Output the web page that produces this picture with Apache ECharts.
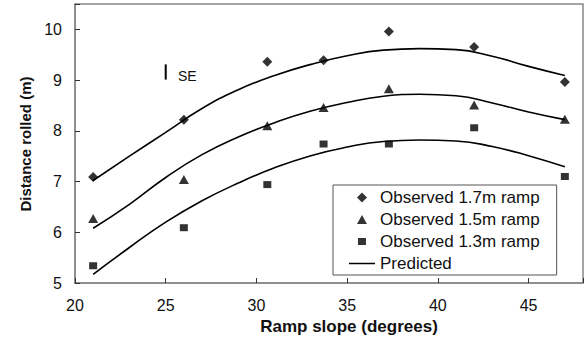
<!DOCTYPE html>
<html>
<head>
<meta charset="utf-8">
<script src="https://cdn.jsdelivr.net/npm/echarts@6/dist/echarts.min.js"></script>
<style>
html,body{margin:0;padding:0;background:#fff;}
#chart{width:586px;height:338px;}
</style>
</head>
<body>
<div id="chart"></div>
<script>
// Observed data
const slopes = [21, 26, 30.6, 33.7, 37.3, 42, 47];
const obs17 = [7.09, 8.22, 9.36, 9.39, 9.96, 9.65, 8.96];
const obs15 = [6.27, 7.04, 8.10, 8.46, 8.83, 8.51, 8.23];
const obs13 = [5.34, 6.09, 6.94, 7.74, 7.74, 8.06, 7.10];
// Predicted curves
const predX = [21, 23, 25, 27, 29, 31, 33, 35, 37, 39, 41, 43, 45, 47];
const pred17 = [7.02, 7.50, 7.97, 8.44, 8.81, 9.09, 9.31, 9.48, 9.59, 9.62, 9.60, 9.47, 9.27, 9.09];
const pred15 = [6.08, 6.55, 7.08, 7.53, 7.88, 8.16, 8.39, 8.56, 8.68, 8.72, 8.69, 8.55, 8.37, 8.22];
const pred13 = [5.17, 5.70, 6.20, 6.62, 6.97, 7.27, 7.51, 7.68, 7.79, 7.82, 7.80, 7.69, 7.51, 7.29];
// SE bar
const seX = 25;
const seRange = [9.01, 9.31];
// Axis ticks
const xTicks = [20, 25, 30, 35, 40, 45];
const yTicks = [5, 6, 7, 8, 9, 10];
const legendNames = ['Observed 1.7m ramp', 'Observed 1.5m ramp', 'Observed 1.3m ramp', 'Predicted'];

const pair = (xs, ys) => xs.map((x, i) => [x, ys[i]]);
const FONT = "'Liberation Sans', Arial, sans-serif";
// legend icons drawn inside a fixed 26x10 frame (frame corners are zero-area sub-paths)
const FRAME = 'M0,0 L0,0.01 Z M26,10 L26,10.01 Z ';
const icons = [
  'path://' + FRAME + 'M13,0 L18,5 L13,10 L8,5 Z',
  'path://' + FRAME + 'M8,9.5 L13,0.5 L18,9.5 Z',
  'path://' + FRAME + 'M9,1.5 L17,1.5 L17,8.5 L9,8.5 Z',
  'path://' + FRAME + 'M0,4.2 L26,4.2 L26,5.8 L0,5.8 Z'
];

const chart = echarts.init(document.getElementById('chart'), null, {renderer: 'svg'});
const predStyle = {
  type: 'line', name: 'Predicted', smooth: true, showSymbol: false, symbol: 'none',
  lineStyle: {color: '#000', width: 1.6}, itemStyle: {color: '#000'}, z: 2, silent: true
};
chart.setOption({
  animation: false,
  backgroundColor: '#fff',
  grid: {left: 75, top: 4, right: -6, bottom: 55, show: true, borderColor: '#888', borderWidth: 1.5},
  xAxis: {
    type: 'value', min: 20, max: 48, interval: 5,
    axisLine: {lineStyle: {color: '#888', width: 1.5}},
    axisTick: {inside: true, length: 5, lineStyle: {color: '#333'}},
    splitLine: {show: false},
    axisLabel: {
      margin: 14, fontSize: 16, fontFamily: FONT, color: '#111',
      formatter: v => xTicks.indexOf(v) >= 0 ? String(v) : ''
    }
  },
  yAxis: {
    type: 'value', min: 5, max: 10.5, interval: 1,
    axisLine: {show: true, lineStyle: {color: '#888', width: 1.5}},
    axisTick: {show: true, inside: true, length: 5, lineStyle: {color: '#333'}},
    splitLine: {show: false},
    axisLabel: {
      margin: 13, fontSize: 16, fontFamily: FONT, color: '#111',
      formatter: v => yTicks.indexOf(v) >= 0 ? String(v) : ''
    }
  },
  legend: {
    left: 333, top: 185, orient: 'vertical',
    data: legendNames.map((n, i) => ({name: n, icon: icons[i]})),
    itemWidth: 26, itemHeight: 10, itemGap: 5,
    padding: [4, 17, 3, 16],
    borderColor: '#555', borderWidth: 1,
    textStyle: {fontSize: 17, fontFamily: FONT, color: '#111', lineHeight: 16},
    selectedMode: false
  },
  graphic: [
    {type: 'text', x: 349, y: 326, style: {text: 'Ramp slope (degrees)', font: "bold 17px 'Liberation Sans', Arial, sans-serif", fill: '#111', textAlign: 'center', textVerticalAlign: 'middle'}},
    {type: 'text', x: 25, y: 144, rotation: Math.PI / 2, style: {text: 'Distance rolled (m)', font: "bold 15px 'Liberation Sans', Arial, sans-serif", fill: '#111', textAlign: 'center', textVerticalAlign: 'middle'}},
    {type: 'text', x: 178, y: 76, style: {text: 'SE', font: "14px 'Liberation Sans', Arial, sans-serif", fill: '#111', textAlign: 'left', textVerticalAlign: 'middle'}}
  ],
  series: [
    {type: 'scatter', name: legendNames[0], data: pair(slopes, obs17), symbol: 'diamond', symbolSize: [10, 10], itemStyle: {color: '#000'}, z: 3},
    {type: 'scatter', name: legendNames[1], data: pair(slopes, obs15), symbol: 'triangle', symbolSize: [10, 9], itemStyle: {color: '#000'}, z: 3},
    {type: 'scatter', name: legendNames[2], data: pair(slopes, obs13), symbol: 'rect', symbolSize: [8, 7], itemStyle: {color: '#000'}, z: 3},
    Object.assign({}, predStyle, {data: pair(predX, pred17)}),
    Object.assign({}, predStyle, {data: pair(predX, pred15)}),
    Object.assign({}, predStyle, {data: pair(predX, pred13)}),
    {type: 'line', name: 'SE', data: [[seX, seRange[0]], [seX, seRange[1]]], symbol: 'none', showSymbol: false,
     lineStyle: {color: '#000', width: 2}, silent: true}
  ]
});
</script>
</body>
</html>
